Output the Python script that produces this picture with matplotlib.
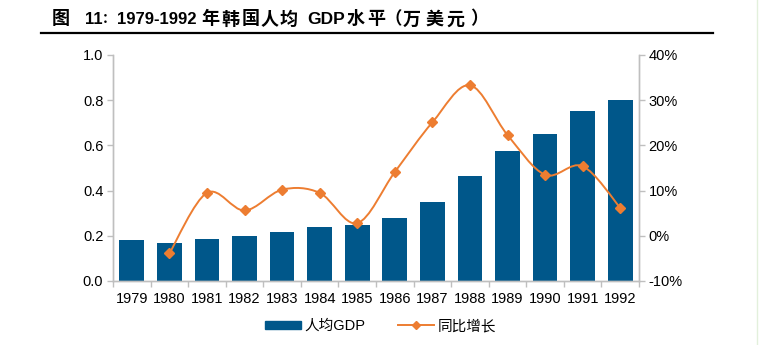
import matplotlib
matplotlib.use("Agg")
import matplotlib.pyplot as plt
from matplotlib.path import Path
from matplotlib.patches import PathPatch, Patch
from matplotlib.lines import Line2D
from matplotlib.ticker import FuncFormatter

plt.rcParams['font.family'] = ['Liberation Sans', 'Noto Sans CJK SC', 'DejaVu Sans']

years = ['1979', '1980', '1981', '1982', '1983', '1984', '1985',
         '1986', '1987', '1988', '1989', '1990', '1991', '1992']
gdp_per_capita = [0.181, 0.170, 0.186, 0.198, 0.217, 0.240, 0.248,
                  0.277, 0.350, 0.466, 0.575, 0.649, 0.752, 0.801]
growth_years = years[1:]
growth_pct = [-3.9, 9.5, 5.6, 10.2, 9.5, 2.8, 14.1, 25.1, 33.3, 22.3, 13.5, 15.4, 6.2]
legend_labels = ['人均GDP', '同比增长']

bar_color = '#00578A'
line_color = '#ED7D31'
axis_grey = '#BFBFBF'
W, H = 761, 345

fig = plt.figure(figsize=(W / 100, H / 100), dpi=100)
ax = fig.add_axes([113 / W, 1 - 281 / H, (639 - 113) / W, (281 - 55) / H])
ax2 = ax.twinx()

x = list(range(len(years)))
ax.bar(x, gdp_per_capita, width=0.66, color=bar_color, zorder=2)
ax.set_xlim(-0.5, len(years) - 0.5)
ax.set_ylim(0, 1.0)
ax.set_yticks([0.0, 0.2, 0.4, 0.6, 0.8, 1.0])
ax.yaxis.set_major_formatter(FuncFormatter(lambda v, p: f'{v:.1f}'))
ax.set_xticks(x)
ax.set_xticklabels(years)
ax.set_xticks([i - 0.5 for i in range(len(years) + 1)], minor=True)
ax.tick_params(axis='x', which='major', length=0, pad=8, labelsize=10.5)
ax.tick_params(axis='x', which='minor', length=4, color=axis_grey, width=1)
ax.tick_params(axis='y', length=4, color=axis_grey, width=1, labelsize=10.5, pad=3)

ax2.set_ylim(-10, 40)
ax2.set_yticks([-10, 0, 10, 20, 30, 40])
ax2.yaxis.set_major_formatter(FuncFormatter(lambda v, p: f'{int(v)}%'))
ax2.tick_params(axis='y', length=4, color=axis_grey, width=1, labelsize=10.5, pad=3)

for a in (ax, ax2):
    a.spines['top'].set_visible(False)
    for s in ('left', 'right', 'bottom'):
        a.spines[s].set_color(axis_grey)
        a.spines[s].set_linewidth(1)

# smoothed growth curve (Catmull-Rom segments as cubic Bezier)
gx = [years.index(y) for y in growth_years]
pts = list(zip(gx, growth_pct))
verts = [pts[0]]
codes = [Path.MOVETO]
n = len(pts)
for i in range(n - 1):
    p0 = pts[i - 1] if i > 0 else pts[i]
    p1 = pts[i]
    p2 = pts[i + 1]
    p3 = pts[i + 2] if i + 2 < n else pts[i + 1]
    c1 = (p1[0] + (p2[0] - p0[0]) / 6, p1[1] + (p2[1] - p0[1]) / 6)
    c2 = (p2[0] - (p3[0] - p1[0]) / 6, p2[1] - (p3[1] - p1[1]) / 6)
    verts += [c1, c2, p2]
    codes += [Path.CURVE4] * 3
ax2.add_patch(PathPatch(Path(verts, codes), facecolor='none', edgecolor=line_color,
                        lw=1.4, zorder=3))
ax2.plot(gx, growth_pct, linestyle='none', marker='D', markersize=5,
         color=line_color, zorder=4)

handles = [Patch(facecolor=bar_color, edgecolor=bar_color),
           Line2D([0], [0], color=line_color, lw=1.4, marker='D', markersize=4)]
fig.legend(handles, legend_labels, loc='center', bbox_to_anchor=(0.5, 1 - 326 / H),
           ncol=2, frameon=False, fontsize=10.5, handlelength=2.5, handleheight=0.5,
           columnspacing=2.2, handletextpad=0.25)

# title, set piece by piece: Latin runs at 12pt, Chinese characters larger and spaced
cjk = ['Noto Sans CJK SC', 'DejaVu Sans']
latin = ['Liberation Sans', 'Noto Sans CJK SC']
narrow = ['Liberation Sans Narrow', 'Liberation Sans', 'Noto Sans CJK SC']
title_pieces = [('图', 52, cjk, 13), ('11', 85, latin, 12), ('：', 102, cjk, 10),
                ('1979-1992', 117, latin, 12),
                ('年', 201, cjk, 13), ('韩', 221, cjk, 13), ('国', 242, cjk, 13),
                ('人', 261, cjk, 13), ('均', 280, cjk, 13),
                ('GDP', 307, narrow, 12.5), ('水', 347, cjk, 13), ('平', 367, cjk, 13),
                ('（', 385, cjk, 12.5), ('万', 403, cjk, 13), ('美', 425, cjk, 13),
                ('元', 446, cjk, 13), ('）', 470, cjk, 13)]
for txt, px, fam, fs in title_pieces:
    fig.text(px / W, 1 - 19 / H, txt, fontsize=fs, fontweight='bold', family=fam,
             ha='left', va='center')
fig.add_artist(Line2D([41 / W, 713 / W], [1 - 33 / H, 1 - 33 / H],
                      color='black', lw=1.6, transform=fig.transFigure))
fig.add_artist(Line2D([757 / W, 757 / W], [0, 1], color='#E3F0DC', lw=1,
                      transform=fig.transFigure))

fig.savefig('out.png', dpi=100)
